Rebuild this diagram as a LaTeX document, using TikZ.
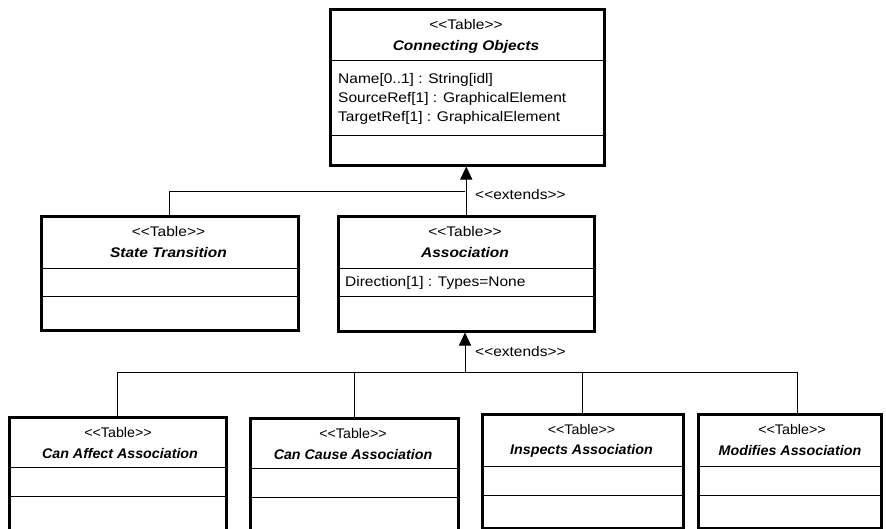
\documentclass[tikz,border=0pt]{standalone}
\usepackage{graphicx}
\usepackage{fontspec}
\setmainfont{Liberation Sans}
\usetikzlibrary{arrows.meta}
\newcommand{\sqz}[1]{\scalebox{1}[0.9]{#1}}
\newcommand{\sqn}[1]{\scalebox{0.92}[0.9]{#1}}
\newcommand{\stl}{<\kern0pt<}
\newcommand{\str}{>\kern0pt>}
\begin{document}
\begin{tikzpicture}[x=1pt,y=-1pt,
  umlbox/.style={draw, line width=2.5pt, anchor=north west, inner sep=0pt},
  divline/.style={line width=0.9pt},
  conn/.style={line width=1pt},
  gen/.style={conn, -{Triangle[width=12pt,length=13pt]}},
  txt/.style={inner sep=0pt, font=\fontsize{15.5}{18}\selectfont},
  nm/.style={txt, font=\fontsize{15.5}{18}\selectfont\bfseries\itshape},
  attr/.style={txt, anchor=west},
  lbl/.style={txt, anchor=west}]
\useasboundingbox (0,0) rectangle (886,528);

% ---- Connecting Objects ----
\node[umlbox, minimum width=274pt, minimum height=156pt] (co) at (329,8) {};
\draw[divline] (329,60) -- (603,60);
\draw[divline] (329,135) -- (603,135);
\node[txt] (cot) at (466,25) {\sqz{\stl Table\str}};
\node[nm] (con) at (466,47) {\sqz{Connecting Objects}};
\node[attr] (coa1) at (338,80) {\sqz{Name[0..1] : String[idl]}};
\node[attr] (coa2) at (338,99) {\sqz{SourceRef[1] : GraphicalElement}};
\node[attr] (coa3) at (338,118) {\sqz{TargetRef[1] : GraphicalElement}};

% ---- State Transition ----
\node[umlbox, minimum width=257pt, minimum height=114pt] (st) at (40,215) {};
\draw[divline] (40,268) -- (297,268);
\draw[divline] (40,296) -- (297,296);
\node[txt] (stt) at (168.5,232) {\sqz{\stl Table\str}};
\node[nm] (stn) at (168.5,253) {\sqz{State Transition}};

% ---- Association ----
\node[umlbox, minimum width=256pt, minimum height=115pt] (as) at (337,215) {};
\draw[divline] (337,268) -- (593,268);
\draw[divline] (337,296) -- (593,296);
\node[txt] (ast) at (465,232) {\sqz{\stl Table\str}};
\node[nm] (asn) at (465,253) {\sqz{Association}};
\node[attr] (asa1) at (345,283) {\sqz{Direction[1] : Types=None}};

% ---- bottom row ----
\node[umlbox, minimum width=217pt, minimum height=115pt] (ca) at (8,416) {};
\draw[divline] (8,467) -- (225,467);
\draw[divline] (8,496) -- (225,496);
\node[txt] (cat) at (118,433) {\sqn{\stl Table\str}};
\node[nm] (can) at (120,454) {\sqn{Can Affect Association}};

\node[umlbox, minimum width=208pt, minimum height=115pt] (cc) at (249,417) {};
\draw[divline] (249,468) -- (457,468);
\draw[divline] (249,497) -- (457,497);
\node[txt] (cct) at (353,434) {\sqn{\stl Table\str}};
\node[nm] (ccn) at (353,455) {\sqn{Can Cause Association}};

\node[umlbox, minimum width=201pt, minimum height=114pt] (ia) at (481,413) {};
\draw[divline] (481,466) -- (682,466);
\draw[divline] (481,495) -- (682,495);
\node[txt] (iat) at (581.5,430) {\sqn{\stl Table\str}};
\node[nm] (ian) at (581.5,451) {\sqn{Inspects Association}};

\node[umlbox, minimum width=183pt, minimum height=114pt] (ma) at (697,413) {};
\draw[divline] (697,466) -- (880,466);
\draw[divline] (697,495) -- (880,495);
\node[txt] (mat) at (792,430) {\sqn{\stl Table\str}};
\node[nm] (man) at (790,451) {\sqn{Modifies Association}};

% ---- connectors ----
\coordinate (j1) at (465,191);
\coordinate (j2) at (465,372);
\draw[gen] (as.north) -- (as.north |- co.south);
\draw[conn] (st.north) |- (j1);
\node[lbl] (ext1) at (475,195) {\sqz{\stl extends\str}};

\draw[gen] (j2) -- (j2 |- as.south);
\draw[conn] (ca.north) |- (j2);
\draw[conn] (cc.north) |- (j2);
\draw[conn] (ia.north) |- (j2);
\draw[conn] ([xshift=8pt]ma.north) |- (j2);
\node[lbl] (ext2) at (475,352) {\sqz{\stl extends\str}};
\end{tikzpicture}
\end{document}
